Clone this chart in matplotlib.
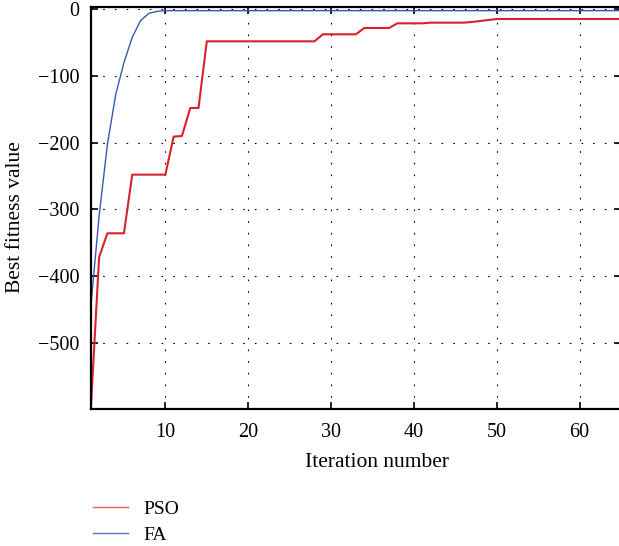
import matplotlib
matplotlib.use("Agg")
import matplotlib.pyplot as plt

# Best fitness per iteration for both optimisers
iterations = list(range(1, 66))

pso_best = ([-600, -372, -336, -336, -336, -248, -248, -248, -248, -248,
             -191, -190, -148, -148]
            + [-48] * 14
            + [-37.5] * 5
            + [-28] * 4
            + [-21] * 4
            + [-20] * 5
            + [-19, -17.5, -16]
            + [-14.5] * 16)

fa_best = ([-446, -310, -203, -128, -80, -42, -17, -6, -3, -2]
           + [-2] * 55)

plt.rcParams["font.family"] = ["Liberation Serif", "DejaVu Serif"]
plt.rcParams["font.size"] = 14

fig = plt.figure(figsize=(6.19, 5.46), dpi=100)
ax = fig.add_axes([0.1467, 0.2504, 0.8566, 0.7374])

ax.plot(iterations, pso_best, color="#d9212b", lw=1.5)
ax.plot(iterations, fa_best, color="#3a58b0", lw=1.0)

ax.set_xlim(1, 65)
ax.set_ylim(-600, 4)
ax.set_xticks(range(10, 61, 10))
ax.set_yticks(range(-500, 1, 100))
ax.yaxis.set_major_formatter(matplotlib.ticker.FuncFormatter(
    lambda v, p: "0" if v == 0 else "\u2212" + str(int(-v))))

# Dotted grid on the major ticks
ax.grid(True, color="black", linestyle=(0, (1.5, 9)), linewidth=0.8)

for side in ["left", "bottom", "top", "right"]:
    ax.spines[side].set_linewidth(1.6)

ax.tick_params(direction="in", length=5, width=1.2, top=True, right=True,
               pad=8, labelsize=14.5)
ax.tick_params(axis="x", pad=10)

ax.set_xlabel("Iteration number", fontsize=15.5)
ax.set_ylabel("Best fitness value", fontsize=15.5)
ax.xaxis.set_label_coords(0.54, -0.108)
ax.yaxis.set_label_coords(-0.124, 0.478)

# Legend below the plot with lighter handles
h1, = ax.plot([], [], color="#ef5a5a", lw=1.0)
h2, = ax.plot([], [], color="#5a74c4", lw=1.0)
fig.legend([h1, h2], ["PSO", "FA"], loc="upper left",
           bbox_to_anchor=(0.138, 0.098), frameon=False, fontsize=14,
           handlelength=1.8, handletextpad=0.8, labelspacing=0.45,
           borderaxespad=0)

fig.savefig("out.png", dpi=100)
